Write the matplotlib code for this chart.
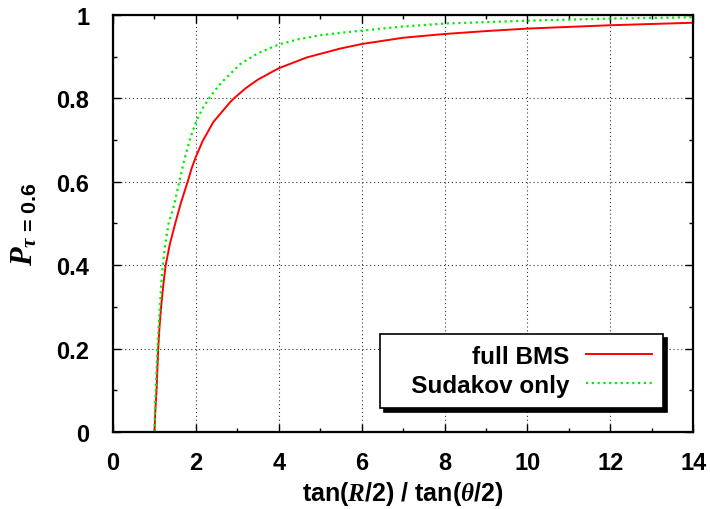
import matplotlib

matplotlib.use("Agg")
import matplotlib.pyplot as plt
from matplotlib.ticker import MultipleLocator

# values
bms_x = [1.0, 1.02, 1.05, 1.09, 1.12, 1.16, 1.21, 1.27, 1.37, 1.5, 1.64, 1.8,
         1.9, 2.0, 2.16, 2.42, 2.82, 2.92, 3.2, 3.5, 4.0, 4.68, 5.48,
         6.0, 7.0, 8.0, 9.0, 10.0, 11.0, 12.0, 13.0, 14.0]
bms_y = [0.0, 0.05, 0.1, 0.2, 0.25, 0.3, 0.35, 0.4, 0.45, 0.5, 0.55, 0.6,
         0.633, 0.660, 0.697, 0.743, 0.790, 0.80, 0.824, 0.845, 0.872,
         0.898, 0.919, 0.930, 0.945, 0.954, 0.961, 0.967, 0.971, 0.975,
         0.978, 0.981]
sud_x = [1.0, 1.01, 1.03, 1.05, 1.07, 1.1, 1.13, 1.16, 1.2, 1.26, 1.34, 1.45,
         1.6, 1.7, 1.86, 2.0, 2.15, 2.33, 2.6, 3.07, 3.5, 4.0, 4.5, 5.0,
         5.5, 6.0, 7.0, 8.0, 10.0, 12.0, 14.0]
sud_y = [0.0, 0.05, 0.1, 0.15, 0.2, 0.25, 0.3, 0.35, 0.4, 0.45, 0.5, 0.535,
         0.6, 0.645, 0.703, 0.743, 0.774, 0.802, 0.836, 0.882, 0.908,
         0.929, 0.942, 0.951, 0.957, 0.962, 0.972, 0.979, 0.986, 0.991, 0.994]
series_labels = ["full BMS", "Sudakov only"]

plt.rcParams["font.family"] = ["Liberation Sans", "DejaVu Sans"]
plt.rcParams["font.weight"] = "bold"
plt.rcParams["axes.labelweight"] = "bold"
plt.rcParams["mathtext.fontset"] = "custom"
plt.rcParams["mathtext.it"] = "Liberation Serif:italic"
plt.rcParams["mathtext.rm"] = "Liberation Sans:bold"
plt.rcParams["mathtext.bf"] = "Liberation Sans:bold"

fig = plt.figure(figsize=(7.11, 5.10), dpi=100)
ax = fig.add_axes([0.159, 0.151, 0.816, 0.818])

ax.plot(bms_x, bms_y, color="#ff0000", linewidth=1.4, label=series_labels[0])
ax.plot(sud_x, sud_y, color="#00ee00", linewidth=1.6, linestyle=(0, (1, 1.6)),
        label="   " + series_labels[1])

ax.set_xlim(0, 14)
ax.set_ylim(0, 1)
ax.xaxis.set_major_locator(MultipleLocator(2))
ax.xaxis.set_minor_locator(MultipleLocator(1))
ax.yaxis.set_minor_locator(MultipleLocator(0.1))
ax.set_yticks([0, 0.2, 0.4, 0.6, 0.8, 1.0])
ax.set_yticklabels(["0", "0.2", "0.4", "0.6", "0.8", "1"])

ax.tick_params(which="both", direction="in", top=True, right=True,
               labelsize=17, width=1.0)
ax.tick_params(axis="x", which="major", length=6, pad=14)
ax.tick_params(axis="y", which="major", length=6, pad=17)
ax.tick_params(which="minor", length=3)
for s in ax.spines.values():
    s.set_linewidth(1.6)

ax.grid(True, which="major", color="black", linestyle=(0, (1, 2.5)),
        linewidth=0.8, alpha=0.8)

ax.set_xlabel(r"tan($R$/2) / tan($\theta$/2)", fontsize=18, labelpad=3)
ax.set_ylabel(r"$P_{\tau\,\mathbf{=\,0.6}}$", fontsize=22, labelpad=12)

leg = ax.legend(loc="lower right", bbox_to_anchor=(0.948, 0.058),
                markerfirst=False, fancybox=False,
                shadow={"color": "black", "alpha": 1.0, "ox": 3, "oy": -3},
                edgecolor="black", framealpha=1, fontsize=17.5, handlelength=2.7,
                borderpad=0.45, labelspacing=0.25, handletextpad=0.7,
                borderaxespad=0)
leg.get_frame().set_linewidth(1.2)
leg._legend_box.align = "right"

fig.savefig("out.png", dpi=100)
